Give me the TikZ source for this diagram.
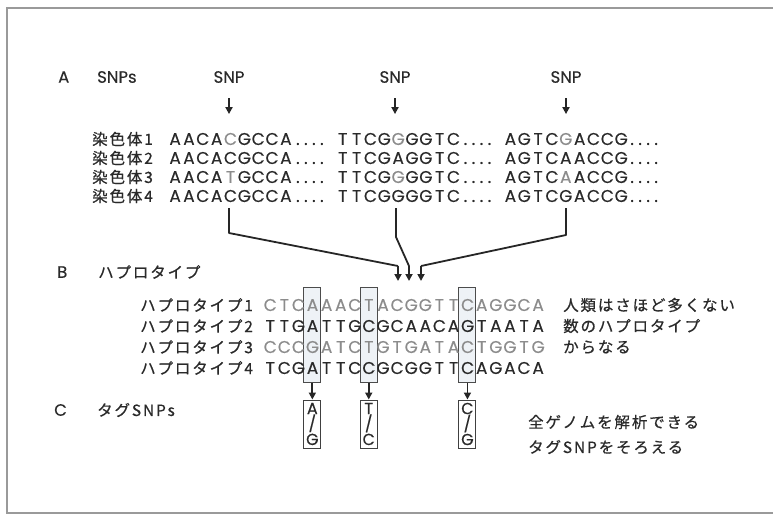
\documentclass[tikz,border=0pt]{standalone}
\usepackage{fontspec}
\setmainfont{Poppins}[FakeBold=0.3]
\newfontfamily\jp{Noto Sans CJK JP}[LetterSpace=12,FakeBold=0.6]
\usetikzlibrary{arrows.meta}
\definecolor{ink}{HTML}{2A2A2A}
\definecolor{lite}{HTML}{8C8C8C}
\definecolor{framec}{HTML}{9A9A9A}
\definecolor{boxfill}{HTML}{EEF2F6}
\newlength\cw
\makeatletter
\def\sqloop#1{\ifx#1\relax\else\makebox[\cw][c]{#1}\expandafter\sqloop\fi}
\newcommand\sq[1]{\sqloop#1\relax}
\makeatother
\newcommand\snp[1]{\makebox[\cw][c]{\textcolor{lite}{#1}}}
\newcommand\fourdots{\makebox[8pt]{.}\makebox[8pt]{.}\makebox[8pt]{.}\makebox[8pt]{.}}
\newcommand\gapdots{\hspace{1pt}\fourdots\hspace{10pt}}
\tikzset{
  lat/.style={inner sep=0pt, anchor=west, text=ink, font=\fontsize{16.5}{17}\selectfont},
  jlbl/.style={inner sep=0pt, anchor=west, text=ink, font=\jp\fontsize{15.5}{16}\selectfont},
  cseq/.style={inner sep=0pt, anchor=west, text=ink, font=\fontsize{17}{17}\selectfont\setlength\cw{13.85pt}},
  hseq/.style={inner sep=0pt, anchor=west, font=\fontsize{17}{17}\selectfont\setlength\cw{14.1pt}},
  hbox/.style={draw=black!70, fill=boxfill, line width=1pt, minimum width=17pt, minimum height=95pt, inner sep=0pt},
  tagbox/.style={draw=black!75, fill=white, line width=1pt, minimum width=17pt, minimum height=48pt, inner sep=0pt, align=center, text=ink, font=\fontsize{16}{15.5}\selectfont},
  arr/.style={line width=1.8pt, draw=black!85, -{Triangle[length=7pt,width=7pt]}},
  conn/.style={line width=1.8pt, draw=black!85, line join=round},
}
\begin{document}
\begin{tikzpicture}[x=1pt,y=-1pt]
\useasboundingbox (0,0) rectangle (773,520);
\draw[framec, line width=1.5pt] (7,8) rectangle (782,513);

% Section A
\node[lat] (A) at (58,77) {A};
\node[lat] (snps) at (97,77) {SNPs};
\node[lat, anchor=center] (snp1) at (229,77) {SNP};
\node[lat, anchor=center] (snp2) at (395,77) {SNP};
\node[lat, anchor=center] (snp3) at (566,77) {SNP};
\foreach \n in {1,2,3}{
  \draw[arr] ([yshift=-15pt]snp\n.south) -- ([yshift=-31pt]snp\n.south);
}

\node[jlbl] (cl1) at (92,139) {染色体1};
\node[jlbl] (cl2) at (92,158) {染色体2};
\node[jlbl] (cl3) at (92,177) {染色体3};
\node[jlbl] (cl4) at (92,196) {染色体4};

\node[cseq] (c1) at (168,139) {\sq{AACA}\snp{C}\sq{GCCA}\gapdots\sq{TTCG}\snp{G}\sq{GGTC}\gapdots\sq{AGTC}\snp{G}\sq{ACCG}\fourdots};
\node[cseq] (c2) at (168,158) {\sq{AACACGCCA}\gapdots\sq{TTCGAGGTC}\gapdots\sq{AGTCAACCG}\fourdots};
\node[cseq] (c3) at (168,177) {\sq{AACA}\snp{T}\sq{GCCA}\gapdots\sq{TTCG}\snp{G}\sq{GGTC}\gapdots\sq{AGTC}\snp{A}\sq{ACCG}\fourdots};
\node[cseq] (c4) at (168,196) {\sq{AACACGCCA}\gapdots\sq{TTCGGGGTC}\gapdots\sq{AGTCGACCG}\fourdots};

% connectors
\coordinate (p1a) at (229,208);
\coordinate (p1b) at (229,233);
\coordinate (p1c) at (398,266);
\coordinate (p1d) at (398,281);
\coordinate (p2a) at (396,208);
\coordinate (p2b) at (396,237);
\coordinate (p2c) at (409,266);
\coordinate (p2d) at (409,281);
\coordinate (p3a) at (566,208);
\coordinate (p3b) at (566,235);
\coordinate (p3c) at (421,266);
\coordinate (p3d) at (421,281);
\draw[conn] (p1a) -- (p1b) -- (p1c);
\draw[conn] (p2a) -- (p2b) -- (p2c);
\draw[conn] (p3a) -- (p3b) -- (p3c);
\draw[arr] (p1c) -- (p1d);
\draw[arr] (p2c) -- (p2d);
\draw[arr] (p3c) -- (p3d);

% Section B
\node[lat] (B) at (57,272) {B};
\node[jlbl] (hap) at (98,272) {ハプロタイプ};

\node[hbox] (k1) at (312.35,334.5) {};
\node[hbox] (k2) at (368.75,334.5) {};
\node[hbox] (k3) at (467.45,334.5) {};

\node[jlbl] (hl1) at (140,305) {ハプロタイプ1};
\node[jlbl] (hl2) at (140,326) {ハプロタイプ2};
\node[jlbl] (hl3) at (140,347) {ハプロタイプ3};
\node[jlbl] (hl4) at (140,368) {ハプロタイプ4};

\node[hseq, text=lite] (h1) at (263,305) {\sq{CTCAAACTACGGTTCAGGCA}};
\node[hseq, text=ink]  (h2) at (263,326) {\sq{TTGATTGCGCAACAGTAATA}};
\node[hseq, text=lite] (h3) at (263,347) {\sq{CCCGATCTGTGATACTGGTG}};
\node[hseq, text=ink]  (h4) at (263,368) {\sq{TCGATTCCGCGGTTCAGACA}};

\node[jlbl] (n1) at (563,305) {人類はさほど多くない};
\node[jlbl] (n2) at (563,326) {数のハプロタイプ};
\node[jlbl] (n3) at (563,347) {からなる};

% Section C
\node[lat] (C) at (54,410) {C};
\node[jlbl] (tag) at (97,410) {タグSNPs};

\node[tagbox] (t1) at (312.35,424) {A\\/\\G};
\node[tagbox] (t2) at (368.75,424) {T\\/\\C};
\node[tagbox] (t3) at (467.45,424) {C\\/\\G};
\draw[arr] (k1.south) -- (t1.north);
\draw[arr] (k2.south) -- (t2.north);
\draw[arr] (k3.south) -- (t3.north);

\node[jlbl] (n4) at (528,422) {全ゲノムを解析できる};
\node[jlbl] (n5) at (528,447) {タグSNPをそろえる};
\end{tikzpicture}
\end{document}
